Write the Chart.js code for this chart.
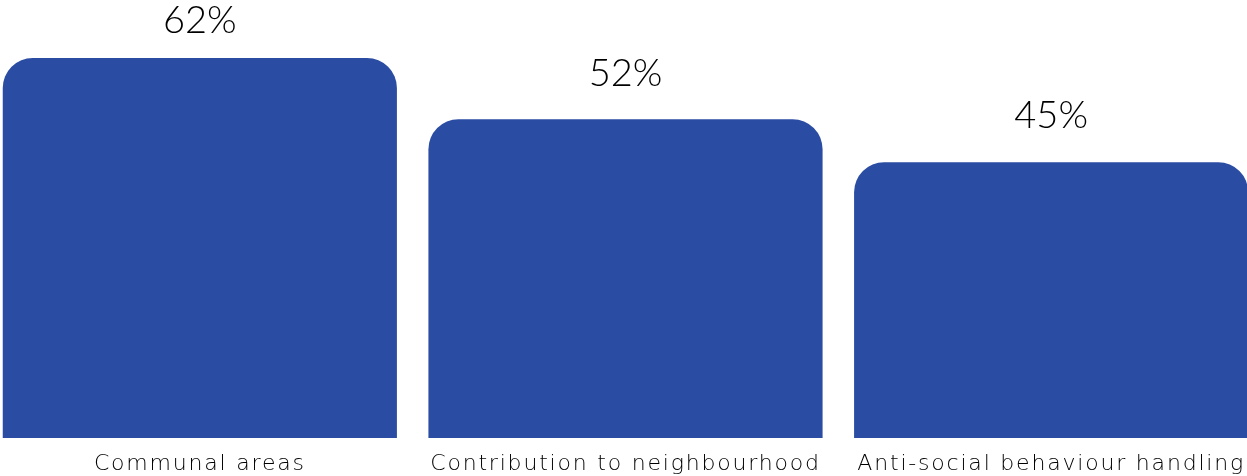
<!DOCTYPE html>
<html>
<head>
<meta charset="utf-8">
<script src="https://cdn.jsdelivr.net/npm/chart.js@4.4.0/dist/chart.umd.min.js"></script>
<style>
    html, body { margin: 0; padding: 0; background: #fff; overflow: hidden; }
    #wrap { position: absolute; left: -13px; top: 0; width: 1277px; height: 476px; }
</style>
</head>
<body>
<div id="wrap"><canvas id="barChart"></canvas></div>
<script>
const categories = ['Communal areas', 'Contribution to neighbourhood', 'Anti-social behaviour handling'];
const percentValues = [62, 52, 45];

const BAR_COLOR = '#2a4ca2';

// Wide spacing for the category labels under the bars
const labelSpacing = {
    id: 'labelSpacing',
    beforeDraw(chart) { chart.ctx.letterSpacing = '1.8px'; },
    afterDraw(chart) { chart.ctx.letterSpacing = '0px'; }
};

// Percentage text above each bar (kept inside the canvas for the tallest one)
const valueLabels = {
    id: 'valueLabels',
    afterDatasetsDraw(chart) {
        const ctx = chart.ctx;
        const meta = chart.getDatasetMeta(0);
        ctx.save();
        ctx.letterSpacing = '0px';
        ctx.font = '300 38px Lato, sans-serif';
        ctx.fillStyle = '#000';
        ctx.textAlign = 'center';
        ctx.textBaseline = 'middle';
        meta.data.forEach((bar, i) => {
            const y = Math.max(bar.y - 46, 21);
            ctx.fillText(percentValues[i] + '%', bar.x, y);
        });
        ctx.restore();
    }
};

new Chart(document.getElementById('barChart'), {
    type: 'bar',
    data: {
        labels: categories,
        datasets: [{
            data: percentValues,
            backgroundColor: BAR_COLOR,
            barPercentage: 0.926,
            categoryPercentage: 1,
            borderRadius: { topLeft: 30, topRight: 30, bottomLeft: 0, bottomRight: 0 },
            borderSkipped: 'start'
        }]
    },
    options: {
        responsive: true,
        maintainAspectRatio: false,
        animation: false,
        layout: { padding: { top: 9, left: 0, right: 0, bottom: 0 } },
        plugins: {
            legend: { display: false },
            tooltip: { enabled: false }
        },
        scales: {
            x: {
                grid: { display: false },
                border: { display: false },
                ticks: {
                    color: '#000',
                    padding: 5,
                    maxRotation: 0,
                    autoSkip: false,
                    font: { family: 'DejaVu Sans', size: 22, weight: 300 }
                },
                afterFit(scale) { scale.height = 38; }
            },
            y: {
                display: false,
                min: 0,
                max: 70
            }
        }
    },
    plugins: [labelSpacing, valueLabels]
});
</script>
</body>
</html>
